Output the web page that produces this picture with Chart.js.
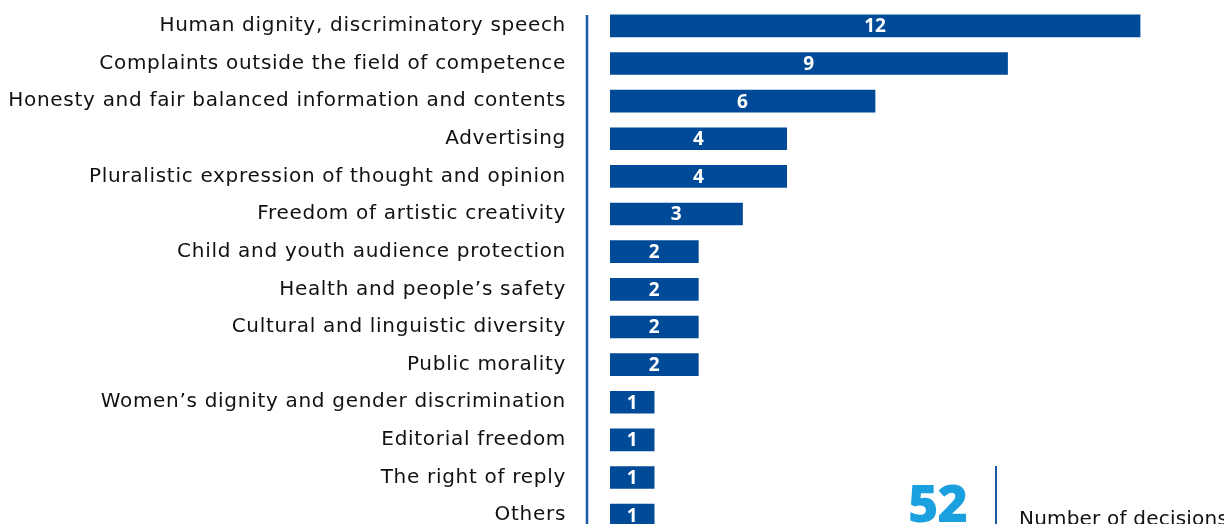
<!DOCTYPE html>
<html>
<head>
<meta charset="utf-8">
<script src="https://cdn.jsdelivr.net/npm/chart.js@4.4.1/dist/chart.umd.min.js"></script>
<style>
  html, body { margin: 0; padding: 0; background: #ffffff; overflow: hidden; }
  #wrap { position: relative; width: 1224px; height: 540px; }
  #total { position: absolute; left: 908px; top: 476px; font-family: 'Open Sans', sans-serif; font-weight: 800; font-size: 52px; line-height: 1; color: #1a9fdf; letter-spacing: -1px; }
  #sep { position: absolute; left: 995px; top: 466px; width: 2px; height: 80px; background: #1d5aa6; }
  #caption { position: absolute; left: 1019px; top: 506px; font-family: 'DejaVu Sans', sans-serif; font-size: 20px; line-height: 1.2; color: #111; white-space: nowrap; letter-spacing: 0.2px; }
</style>
</head>
<body>
<div id="wrap">
  <canvas id="c"></canvas>
  <div id="total"></div>
  <div id="sep"></div>
  <div id="caption"></div>
</div>
<script>
const categories = [
  'Human dignity, discriminatory speech',
  'Complaints outside the field of competence',
  'Honesty and fair balanced information and contents',
  'Advertising',
  'Pluralistic expression of thought and opinion',
  'Freedom of artistic creativity',
  'Child and youth audience protection',
  'Health and people\u2019s safety',
  'Cultural and linguistic diversity',
  'Public morality',
  'Women\u2019s dignity and gender discrimination',
  'Editorial freedom',
  'The right of reply',
  'Others'
];
const decisions = [12, 9, 6, 4, 4, 3, 2, 2, 2, 2, 1, 1, 1, 1];
const totalValue = '52';
const totalCaption = 'Number of decisions';

document.getElementById('total').textContent = totalValue;
document.getElementById('caption').textContent = totalCaption;

const barBlue = '#004a98';

const spacingPlugin = {
  id: 'labelSpacing',
  beforeDraw(chart) { chart.ctx.letterSpacing = '0.7px'; }
};

const axisLinePlugin = {
  id: 'axisLine',
  afterDraw(chart) {
    const ctx = chart.ctx;
    const x = chart.chartArea.left - 23;
    ctx.save();
    ctx.strokeStyle = '#1d5aa6';
    ctx.lineWidth = 2.5;
    ctx.beginPath();
    ctx.moveTo(x, 15);
    ctx.lineTo(x, chart.height);
    ctx.stroke();
    ctx.restore();
  }
};

const valueLabelPlugin = {
  id: 'valueLabels',
  afterDatasetsDraw(chart) {
    const ctx = chart.ctx;
    const meta = chart.getDatasetMeta(0);
    const data = chart.data.datasets[0].data;
    ctx.save();
    ctx.letterSpacing = '0px';
    ctx.fillStyle = '#ffffff';
    ctx.font = 'bold 19px "Open Sans", sans-serif';
    ctx.textAlign = 'center';
    ctx.textBaseline = 'middle';
    meta.data.forEach((el, i) => {
      const cx = (el.x + el.base) / 2;
      ctx.fillText(String(data[i]), cx, el.y + 1);
    });
    ctx.restore();
  }
};

new Chart(document.getElementById('c'), {
  type: 'bar',
  data: {
    labels: categories,
    datasets: [{
      data: decisions,
      backgroundColor: barBlue,
      borderWidth: 0,
      barThickness: 22
    }]
  },
  options: {
    indexAxis: 'y',
    responsive: true,
    maintainAspectRatio: false,
    animation: false,
    layout: { padding: { top: 7, bottom: 6, left: 0, right: 0 } },
    plugins: { legend: { display: false }, tooltip: { enabled: false } },
    scales: {
      x: { display: false, min: 0, max: 13.9 },
      y: {
        grid: { display: false, drawTicks: false },
        border: { display: false },
        afterFit(scale) {
          scale.width = 610;
          scale.paddingTop = 0;
          scale.paddingBottom = 0;
        },
        ticks: {
          padding: 44,
          color: '#111111',
          font: { family: '"DejaVu Sans", sans-serif', size: 20 }
        }
      }
    }
  },
  plugins: [spacingPlugin, axisLinePlugin, valueLabelPlugin]
});
</script>
</body>
</html>
